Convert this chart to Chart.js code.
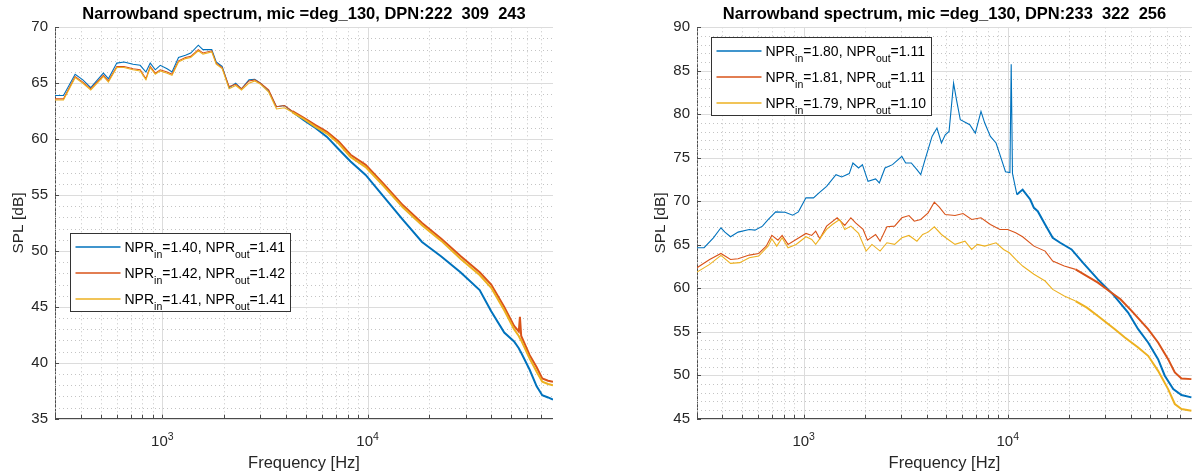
<!DOCTYPE html>
<html>
<head>
<meta charset="utf-8">
<title>Narrowband spectrum</title>
<script src="https://cdn.jsdelivr.net/npm/chart.js@4.4.0/dist/chart.umd.min.js"></script>
<style>
  html, body { margin: 0; padding: 0; background: #fff; }
  body { width: 1192px; height: 475px; position: relative; overflow: hidden; }
  .panel { position: absolute; top: 0; }
  #panel-left { left: 0; }
  #panel-right { left: 642px; }
</style>
</head>
<body>
<div class="panel" id="panel-left"><canvas id="spec-left" width="553" height="475"></canvas></div>
<div class="panel" id="panel-right"><canvas id="spec-right" width="550" height="475"></canvas></div>
<script>
// ─── Data ────────────────────────────────────────────────────────────────────

const freqTicks = [300, 400, 500, 600, 700, 800, 900,
  1000, 2000, 3000, 4000, 5000, 6000, 7000, 8000, 9000,
  10000, 20000, 30000, 40000, 50000, 60000, 70000, 80000];

const leftTitle = 'Narrowband spectrum, mic =deg_130, DPN:222  309  243';
const leftNprIn = ['1.40', '1.42', '1.41'];
const leftNprOut = ['1.41', '1.42', '1.41'];

const leftFreq = [300, 330, 376, 410, 448, 516, 546, 600, 651, 720,
  780, 832, 873, 924, 977, 1055, 1115, 1199, 1296, 1375,
  1497, 1577, 1741, 1830, 1956, 2115, 2277, 2430, 2643, 2821,
  3010, 3297, 3597, 3932, 4300, 4890, 5572, 6340, 7230, 8260,
  9780, 11970, 14830, 18410, 22850, 28340, 35140, 40000, 46300, 51700,
  54500, 55200, 56000, 61500, 66600, 70900, 75700, 80000];

const leftBlue = [63.9, 63.9, 65.8, 65.3, 64.6, 65.9, 65.4, 66.8, 66.9, 66.7,
  66.6, 66.0, 66.8, 66.2, 66.6, 66.3, 66.0, 67.3, 67.5, 67.7,
  68.4, 68.0, 68.0, 66.9, 66.5, 64.6, 65.0, 64.5, 65.3, 65.35,
  65.0, 64.3, 62.9, 63.0, 62.45, 61.7, 61.0, 60.2, 59.1, 58.0,
  56.8, 54.85, 52.8, 50.8, 49.5, 48.1, 46.5, 44.6, 42.7, 41.9,
  41.3, 41.1, 40.9, 39.4, 37.9, 37.1, 36.9, 36.7];

const leftRed = [63.6, 63.6, 65.6, 65.1, 64.5, 65.7, 65.2, 66.5, 66.5, 66.3,
  66.2, 65.4, 66.5, 65.9, 66.2, 66.0, 65.8, 67.0, 67.3, 67.4,
  68.0, 67.7, 67.9, 66.8, 66.4, 64.7, 64.9, 64.5, 65.2, 65.3,
  65.0, 64.4, 62.9, 63.0, 62.5, 61.9, 61.25, 60.65, 59.8, 58.6,
  57.7, 56.0, 54.1, 52.5, 51.1, 49.55, 48.1, 47.0, 45.0, 43.3,
  42.8, 44.1, 42.4, 40.7, 39.6, 38.6, 38.4, 38.3];

const leftYellow = [63.5, 63.5, 65.5, 65.0, 64.4, 65.6, 65.1, 66.4, 66.4, 66.2,
  66.1, 65.3, 66.4, 65.8, 66.1, 65.9, 65.7, 66.9, 67.2, 67.3,
  67.9, 67.6, 67.8, 66.7, 66.3, 64.5, 64.8, 64.4, 65.0, 65.2,
  64.9, 64.2, 62.7, 62.8, 62.4, 61.8, 61.1, 60.5, 59.6, 58.4,
  57.5, 55.8, 53.9, 52.3, 50.9, 49.3, 47.85, 46.7, 44.7, 43.0,
  42.4, 42.2, 42.0, 40.4, 39.2, 38.3, 38.1, 38.0];

const rightTitle = 'Narrowband spectrum, mic =deg_130, DPN:233  322  256';
const rightNprIn = ['1.80', '1.81', '1.79'];
const rightNprOut = ['1.11', '1.11', '1.10'];

const rightBlueFreq = [300, 325, 361, 393, 411, 438, 477, 541, 577, 628,
  669, 729, 811, 883, 942, 1026, 1117, 1189, 1295, 1440,
  1536, 1672, 1743, 1858, 1940, 2067, 2251, 2348, 2503, 2725,
  3027, 3161, 3368, 3589, 3747, 3911, 4257, 4500, 4733, 4941,
  5158, 5427, 5610, 5856, 6516, 6936, 7395, 7714, 8222, 8765,
  9155, 9750, 10250, 10400, 10550, 11090, 11830, 12890, 13440, 14030,
  15250, 16610, 18080, 20550, 23350, 27670, 32800, 38900, 43570, 48750,
  54560, 58850, 64740, 71050, 79460];

const rightBlue = [64.66, 64.66, 65.8, 66.95, 66.45, 65.92, 66.45, 66.76, 66.68, 67.14,
  67.9, 68.78, 68.74, 68.4, 68.78, 70.39, 70.39, 70.96, 71.72, 73.06,
  72.8, 73.18, 74.4, 73.83, 74.21, 72.29, 72.57, 72.11, 73.83, 74.21,
  75.16, 74.4, 74.4, 73.64, 73.06, 74.59, 77.45, 78.42, 76.7, 77.65,
  78.03, 83.58, 81.66, 79.37, 78.8, 77.84, 80.33, 78.99, 77.45, 76.7,
  75.36, 73.4, 73.3, 85.76, 73.2, 70.77, 71.34, 70.2, 69.24, 68.85,
  67.33, 65.8, 65.23, 64.46, 62.94, 61.02, 59.3, 57.2, 55.29, 53.76,
  51.85, 49.94, 48.4, 47.72, 47.45];

const rightRedFreq = [300, 346, 393, 438, 477, 541, 602, 655, 698, 748,
  784, 838, 918, 1026, 1095, 1145, 1200, 1295, 1459, 1590,
  1703, 1797, 1955, 2054, 2251, 2368, 2557, 2790, 3027, 3282,
  3483, 3747, 4073, 4367, 4609, 4941, 5516, 6040, 6656, 7395,
  8222, 9155, 10000, 10940, 11830, 13440, 15250, 16610, 18930, 21500,
  24440, 27670, 31400, 35700, 40470, 48750, 54560, 61100, 65900, 71050,
  79460];

const rightRed = [62.36, 63.31, 64.0, 63.31, 63.39, 63.81, 64.0, 64.84, 66.07, 65.53,
  66.07, 65.04, 65.61, 66.3, 66.07, 66.56, 65.69, 67.14, 68.1, 67.22,
  68.1, 67.52, 66.76, 65.53, 66.18, 65.41, 67.06, 67.14, 68.1, 68.36,
  67.71, 67.9, 68.67, 69.89, 69.36, 68.47, 68.36, 68.59, 67.9, 68.1,
  67.33, 66.76, 66.76, 66.38, 65.92, 64.84, 64.27, 63.12, 62.55, 62.17,
  61.4, 60.64, 59.68, 58.73, 57.39, 55.29, 53.76, 51.85, 50.32, 49.63,
  49.55];

const rightYellowFreq = [300, 346, 393, 438, 486, 541, 602, 669, 698, 738,
  784, 838, 918, 1026, 1095, 1145, 1295, 1381, 1500, 1590,
  1703, 1858, 2023, 2160, 2368, 2557, 2790, 3027, 3282, 3589,
  3830, 4073, 4367, 4733, 5047, 5516, 6173, 6656, 7095, 7714,
  8765, 9540, 10180, 10940, 11830, 13440, 15250, 16610, 18930, 21500,
  24440, 27670, 33500, 37500, 43570, 48750, 54560, 61100, 65900, 71050,
  79460];

const rightYellow = [61.86, 62.74, 63.77, 62.86, 62.94, 63.51, 63.7, 64.84, 65.69, 64.84,
  65.8, 64.66, 65.04, 65.92, 65.61, 65.04, 66.76, 67.33, 67.9, 66.76,
  67.14, 66.3, 64.27, 65.04, 64.27, 65.23, 65.04, 65.8, 66.07, 65.41,
  66.18, 66.45, 67.06, 66.18, 65.69, 65.04, 65.41, 64.46, 65.04, 64.84,
  65.23, 64.46, 64.08, 63.31, 62.55, 61.6, 60.83, 59.87, 59.1, 58.53,
  57.77, 56.81, 55.29, 54.33, 53.19, 52.23, 50.5, 48.4, 46.69, 46.11,
  45.92];

// MATLAB default line colours
const lineColors = ['#0072BD', '#D95319', '#EDB120'];

// ─── Style ───────────────────────────────────────────────────────────────────

const FONT = "'Liberation Sans', Arial, Helvetica, sans-serif";
const TEXT_GRAY = '#262626';
const AXIS_GRAY = '#4a4a4a';

function isDecade(v) {
  const l = Math.log10(v);
  return Math.abs(l - Math.round(l)) < 1e-9;
}

// grid (major solid, minor dotted), inward tick marks, 10^n labels and the
// legend with subscripts are drawn here so they look like a MATLAB figure
const matlabAxes = {
  id: 'matlabAxes',
  beforeDatasetsDraw(chart) {
    const { ctx, chartArea: a, scales: { x, y } } = chart;
    const xs = x.ticks.map(t => ({ v: t.value, px: Math.round(x.getPixelForValue(t.value)) + 0.5 }));
    const ys = y.ticks.map(t => ({ v: t.value, px: Math.round(y.getPixelForValue(t.value)) + 0.5 }));
    ctx.save();
    ctx.lineWidth = 1;

    ctx.strokeStyle = '#c4c4c4';
    ctx.setLineDash([1, 3]);
    ctx.beginPath();
    xs.filter(t => !isDecade(t.v)).forEach(t => { ctx.moveTo(t.px, a.top); ctx.lineTo(t.px, a.bottom); });
    ys.filter(t => t.v % 5 !== 0).forEach(t => { ctx.moveTo(a.left, t.px); ctx.lineTo(a.right, t.px); });
    ctx.stroke();

    ctx.setLineDash([]);
    ctx.strokeStyle = '#dcdcdc';
    ctx.beginPath();
    xs.filter(t => isDecade(t.v)).forEach(t => { ctx.moveTo(t.px, a.top); ctx.lineTo(t.px, a.bottom); });
    ys.filter(t => t.v % 5 === 0).forEach(t => { ctx.moveTo(a.left, t.px); ctx.lineTo(a.right, t.px); });
    ctx.stroke();
    ctx.restore();
  },
  afterDraw(chart, args, opts) {
    const { ctx, chartArea: a, scales: { x, y } } = chart;
    ctx.save();

    // inward ticks
    ctx.strokeStyle = AXIS_GRAY;
    ctx.lineWidth = 1;
    ctx.beginPath();
    x.ticks.forEach(t => {
      const px = Math.round(x.getPixelForValue(t.value)) + 0.5;
      ctx.moveTo(px, a.bottom);
      ctx.lineTo(px, a.bottom - 4);
    });
    y.ticks.filter(t => t.value % 5 === 0).forEach(t => {
      const py = Math.round(y.getPixelForValue(t.value)) + 0.5;
      ctx.moveTo(a.left, py);
      ctx.lineTo(a.left + 4, py);
    });
    ctx.stroke();

    // decade labels 10^n
    ctx.fillStyle = TEXT_GRAY;
    ctx.textBaseline = 'alphabetic';
    ctx.textAlign = 'left';
    x.ticks.filter(t => isDecade(t.value)).forEach(t => {
      const px = x.getPixelForValue(t.value);
      const exp = String(Math.round(Math.log10(t.value)));
      ctx.font = `15px ${FONT}`;
      const wb = ctx.measureText('10').width;
      ctx.font = `10.5px ${FONT}`;
      const we = ctx.measureText(exp).width;
      const x0 = px - (wb + we) / 2;
      ctx.font = `15px ${FONT}`;
      ctx.fillText('10', x0, a.bottom + 27.5);
      ctx.font = `10.5px ${FONT}`;
      ctx.fillText(exp, x0 + wb, a.bottom + 20.8);
    });

    // legend box
    const lg = opts.legend;
    const bx = Math.round(a.left + lg.left) + 0.5;
    const by = Math.round(a.top + lg.top) + 0.5;
    const bw = 220, rowH = 26;
    const bh = rowH * chart.data.datasets.length;
    ctx.fillStyle = '#ffffff';
    ctx.fillRect(bx, by, bw, bh);
    ctx.strokeStyle = '#333333';
    ctx.lineWidth = 1;
    ctx.strokeRect(bx, by, bw, bh);

    chart.data.datasets.forEach((ds, i) => {
      const cy = Math.round(by + rowH / 2 + rowH * i);
      ctx.strokeStyle = ds.borderColor;
      ctx.lineWidth = 1.5;
      ctx.beginPath();
      ctx.moveTo(bx + 5, cy);
      ctx.lineTo(bx + 50, cy);
      ctx.stroke();

      const parts = [
        ['NPR', false], ['in', true], ['=' + ds.nprIn + ', NPR', false], ['out', true], ['=' + ds.nprOut, false]
      ];
      let tx = bx + 54;
      ctx.fillStyle = '#000000';
      parts.forEach(([txt, sub]) => {
        ctx.font = sub ? `10.5px ${FONT}` : `14px ${FONT}`;
        ctx.fillText(txt, tx, cy + (sub ? 10.5 : 5));
        tx += ctx.measureText(txt).width;
      });
    });
    ctx.restore();
  }
};

// ─── Chart ───────────────────────────────────────────────────────────────────

function makeSpectrum(canvasId, cfg) {
  const datasets = cfg.series.map((s, i) => ({
    label: `NPR_in=${s.nprIn}, NPR_out=${s.nprOut}`,
    nprIn: s.nprIn,
    nprOut: s.nprOut,
    data: s.freq.map((f, k) => ({ x: f, y: s.spl[k] })),
    borderColor: lineColors[i],
    backgroundColor: lineColors[i],
    borderWidth: 1,
    pointRadius: 0,
    tension: 0,
    order: cfg.series.length - i,
    segment: {
      borderWidth: (c) => (c.p0.parsed.x >= s.thickFrom ? 2 : 1.1),
    },
  }));

  const yTicks = [];
  for (let v = cfg.yMin; v <= cfg.yMax; v++) yTicks.push(v);

  return new Chart(document.getElementById(canvasId), {
    type: 'line',
    data: { datasets },
    plugins: [matlabAxes],
    options: {
      responsive: false,
      animation: false,
      events: [],
      layout: { padding: 0 },
      plugins: {
        legend: { display: false },
        tooltip: { enabled: false },
        title: {
          display: true,
          text: cfg.title,
          fullSize: false,
          color: '#000000',
          font: { family: FONT, size: 16.5, weight: 'bold' },
          padding: { top: 5, bottom: 2.5 },
        },
        matlabAxes: { legend: cfg.legend },
      },
      scales: {
        x: {
          type: 'logarithmic',
          min: 300,
          max: 80000,
          afterBuildTicks: (s) => { s.ticks = freqTicks.map(v => ({ value: v })); },
          afterFit: (s) => { s.height = 56.3; },
          ticks: { display: false },
          grid: { drawOnChartArea: false, drawTicks: false },
          border: { color: AXIS_GRAY, width: 1 },
          title: {
            display: true,
            text: 'Frequency [Hz]',
            color: TEXT_GRAY,
            font: { family: FONT, size: 16.5 },
            padding: { top: 0, bottom: 1.6 },
          },
        },
        y: {
          type: 'linear',
          min: cfg.yMin,
          max: cfg.yMax,
          afterBuildTicks: (s) => { s.ticks = yTicks.map(v => ({ value: v })); },
          afterFit: (s) => { s.width = 55; },
          ticks: {
            autoSkip: false,
            padding: 7,
            color: TEXT_GRAY,
            font: { family: FONT, size: 15 },
            callback: (v) => (v % 5 === 0 ? String(v) : ''),
          },
          grid: { drawOnChartArea: false, drawTicks: false },
          border: { color: AXIS_GRAY, width: 1 },
          title: {
            display: true,
            text: 'SPL [dB]',
            color: TEXT_GRAY,
            font: { family: FONT, size: 15.5 },
            padding: { top: 9.7, bottom: 0 },
          },
        },
      },
    },
  });
}

makeSpectrum('spec-left', {
  title: leftTitle,
  yMin: 35,
  yMax: 70,
  legend: { left: 15, top: 205.4 },
  series: [
    { freq: leftFreq, spl: leftBlue, nprIn: leftNprIn[0], nprOut: leftNprOut[0], thickFrom: 4000 },
    { freq: leftFreq, spl: leftRed, nprIn: leftNprIn[1], nprOut: leftNprOut[1], thickFrom: 4000 },
    { freq: leftFreq, spl: leftYellow, nprIn: leftNprIn[2], nprOut: leftNprOut[2], thickFrom: 4000 },
  ],
});

makeSpectrum('spec-right', {
  title: rightTitle,
  yMin: 45,
  yMax: 90,
  legend: { left: 14, top: 10 },
  series: [
    { freq: rightBlueFreq, spl: rightBlue, nprIn: rightNprIn[0], nprOut: rightNprOut[0], thickFrom: 11000 },
    { freq: rightRedFreq, spl: rightRed, nprIn: rightNprIn[1], nprOut: rightNprOut[1], thickFrom: 20000 },
    { freq: rightYellowFreq, spl: rightYellow, nprIn: rightNprIn[2], nprOut: rightNprOut[2], thickFrom: 20000 },
  ],
});
</script>
</body>
</html>
